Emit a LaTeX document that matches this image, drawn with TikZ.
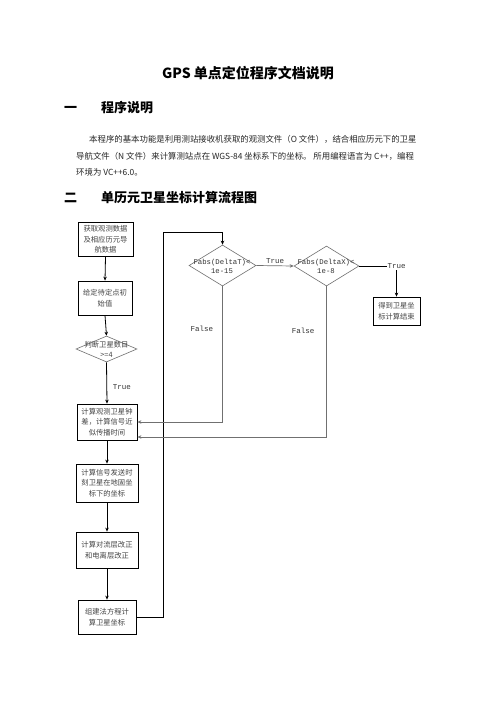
\documentclass[tikz,border=0pt]{standalone}
\usepackage{fontspec}
\setmainfont{Liberation Serif}
\newfontfamily\cjk{Noto Sans CJK SC}
\newfontfamily\monof{Liberation Mono}
\usetikzlibrary{shapes.geometric,arrows.meta,calc}
\definecolor{txtgray}{HTML}{444444}
\definecolor{linegray}{HTML}{707070}
\tikzset{
  boxnode/.style={draw=black,line width=0.8pt,inner sep=0pt,align=center,text=txtgray,
    font=\cjk\fontsize{7.3}{10.5}\selectfont},
  decnode/.style={draw=linegray,line width=0.6pt,shape=diamond,inner sep=0pt},
  dectext/.style={align=center,text=black!80,font=\monof\fontsize{7.3}{9}\selectfont},
  lbl/.style={text=black!80,font=\monof\fontsize{7.5}{9}\selectfont,inner sep=1pt},
  blackarrow/.style={draw=black,line width=0.8pt,-{Stealth[length=4pt,width=3.5pt]}},
  grayarrow/.style={draw=linegray,line width=0.7pt,-{Stealth[length=4pt,width=3.5pt]}},
  para/.style={anchor=west,inner sep=0pt,text=black!85,font=\cjk\fontsize{8.4}{10}\selectfont},
  headnode/.style={anchor=west,inner sep=0pt,font=\cjk\bfseries\fontsize{13}{15}\selectfont}
}
\begin{document}
\begin{tikzpicture}[x=1pt,y=-1pt]
\useasboundingbox[fill=white] (0,0) rectangle (496,702);
% title and text
\node[inner sep=0pt,font=\cjk\bfseries\fontsize{14}{16}\selectfont] (title) at (248,73) {GPS 单点定位程序文档说明};
\node[headnode] (h1) at (64,108) {一\hspace{24pt}程序说明};
\node[para] (p1) at (89,139) {本程序的基本功能是利用测站接收机获取的观测文件（O 文件），结合相应历元下的卫星};
\node[para] (p2) at (76,156) {导航文件（N 文件）来计算测站点在 WGS-84 坐标系下的坐标。 所用编程语言为 C++，编程};
\node[para] (p3) at (76,172) {环境为 VC++6.0。};
\node[headnode] (h2) at (64,198) {二\hspace{24pt}单历元卫星坐标计算流程图};
% boxes
\node[boxnode,minimum width=55pt,minimum height=34pt] (b1) at (105.5,239.5) {获取观测数据\\及相应历元导\\航数据};
\node[boxnode,minimum width=54pt,minimum height=34pt] (b2) at (105,298) {给定待定点初\\始值};
\node[decnode,minimum width=61pt,minimum height=26pt] (d0) at (106.5,349) {};
\node[boxnode,text=txtgray,align=center,draw=none,font=\cjk\fontsize{7.3}{10}\selectfont] (d0t) at (d0) {判断卫星数目\\>=4};
\node[boxnode,minimum width=60pt,minimum height=36pt] (b3) at (107,422) {计算观测卫星钟\\差，计算信号近\\似传播时间};
\node[boxnode,minimum width=62pt,minimum height=38pt] (b4) at (107,483) {计算信号发送时\\刻卫星在地固坐\\标下的坐标};
\node[boxnode,minimum width=62pt,minimum height=36pt] (b5) at (107,550) {计算对流层改正\\和电离层改正};
\node[boxnode,minimum width=58pt,minimum height=34pt] (b6) at (107,617) {组建法方程计\\算卫星坐标};
\node[decnode,minimum width=67pt,minimum height=41pt] (d1) at (222.5,265.5) {};
\node[dectext] (d1t) at (222,266) {Fabs(DeltaT)<\\1e-15};
\node[decnode,minimum width=65pt,minimum height=40pt] (d2) at (326.5,266) {};
\node[dectext] (d2t) at (326,266.5) {Fabs(DeltaX)<\\1e-8};
\node[boxnode,minimum width=47pt,minimum height=28pt] (b7) at (396.5,311) {得到卫星坐\\标计算结束};
% labels
\node[lbl] (t0) at (122,387) {True};
\node[lbl] (f1) at (202,329) {False};
\node[lbl] (f2) at (303,331) {False};
% connectors
\draw[blackarrow] (b1.south) -- (b2.north);
\draw[blackarrow] (b2.south) -- (d0.north);
\draw[blackarrow] (d0.south) -- (b3.north);
\draw[blackarrow] (b3.south) -- (b4.north);
\draw[blackarrow] (b4.south) -- (b5.north);
\draw[blackarrow] (b5.south) -- (b6.north);
\coordinate (loopc) at (163,232);
\draw[blackarrow] (b6.east) -| (loopc) -| (d1.north);
\draw[grayarrow] (d1.east) -- node[lbl,above=1pt] (t1) {True} (d2.west);
\draw[blackarrow] (d2.east) -| node[lbl,fill=white,pos=0.5] (t2) {True} (b7.north);
\draw[grayarrow] (d1.south) |- (b3.east);
\draw[grayarrow] (d2.south) |- ($(b3.east)+(0,15)$);
\end{tikzpicture}
\end{document}
